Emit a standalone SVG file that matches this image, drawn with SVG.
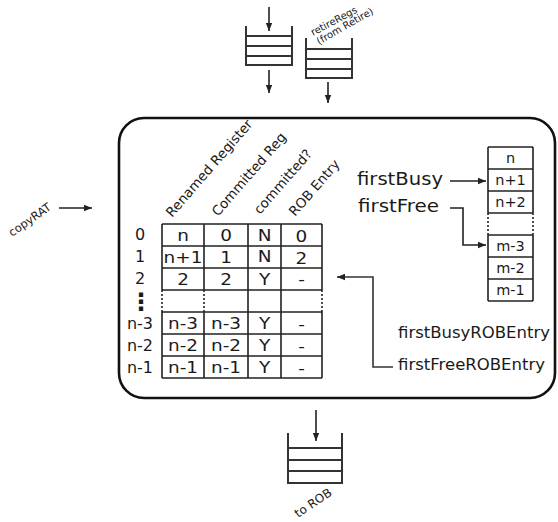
<svg xmlns="http://www.w3.org/2000/svg" width="558" height="522" viewBox="0 0 558 522">
  <style>
    text { font-family: "DejaVu Sans", "Liberation Sans", sans-serif; fill: #1a1a1a; }
    .cell { font-size: 16.5px; text-anchor: middle; }
    .rowlbl { font-size: 16px; text-anchor: middle; }
    .hdr { font-size: 13.5px; }
    .stk { font-size: 14.5px; text-anchor: middle; }
    .ptr { font-size: 17px; }
    .ptr2 { font-size: 15px; }
    .small { font-size: 10px; }
    .grid { fill: none; stroke: #222; stroke-width: 1.6; }
    .dot { fill: none; stroke: #222; stroke-width: 1.6; stroke-dasharray: 2 2; }
    .fifo { fill: none; stroke: #333; stroke-width: 2; }
    .wire { fill: none; stroke: #222; stroke-width: 1.6; }
    .wire2 { fill: none; stroke: #333; stroke-width: 1.6; }
  </style>
  <defs>
    <marker id="arr" viewBox="0 0 10 10" refX="10" refY="5" markerWidth="8" markerHeight="8" markerUnits="userSpaceOnUse" orient="auto">
      <path d="M0,1 L10,5 L0,9 z" fill="#222"/>
    </marker>
  </defs>

  <!-- rename unit outline -->
  <g id="rename-unit">
    <rect x="119" y="118" width="436" height="280" rx="25" ry="25" fill="none" stroke="#111" stroke-width="2.6"/>
  </g>

  <!-- input queue (top left) -->
  <g id="fifo-in">
    <path class="fifo" d="M246,26 V65 H292 V26"/>
    <path class="fifo" d="M246,36 H292 M246,46 H292 M246,56 H292"/>
  </g>

  <!-- retireRegs queue -->
  <g id="fifo-retire">
    <path class="fifo" d="M306,38 V78 H352 V38"/>
    <path class="fifo" d="M306,49 H352 M306,59 H352 M306,69 H352"/>
    <text class="small" transform="translate(313,36) rotate(-28)">retireRegs</text>
    <text class="small" transform="translate(319,45) rotate(-30)">(from Retire)</text>
  </g>

  <!-- output queue to ROB -->
  <g id="fifo-rob">
    <path class="fifo" d="M288,433 V483 H342 V433"/>
    <path class="fifo" d="M288,448 H342 M288,460 H342 M288,471 H342"/>
    <text transform="translate(298,518) rotate(-34)" style="font-size:12px">to ROB</text>
  </g>

  <!-- copyRAT input -->
  <g id="copyrat">
    <text transform="translate(12,237) rotate(-35)" style="font-size:11.5px">copyRAT</text>
  </g>

  <!-- register alias table -->
  <g id="rat-table">
    <text class="hdr" transform="translate(172,218) rotate(-49)">Renamed Register</text>
    <text class="hdr" transform="translate(218,217) rotate(-49)">Committed Reg</text>
    <text class="hdr" transform="translate(260,215) rotate(-49)">committed?</text>
    <text class="hdr" transform="translate(295,217) rotate(-49)">ROB Entry</text>

    <!-- solid grid -->
    <path class="grid" d="M162,224 H322 M162,246 H322 M162,268 H322 M162,290 H322 M162,312 H322 M162,334 H322 M162,356 H322 M162,378 H322"/>
    <path class="grid" d="M162,224 V290 M204,224 V290 M248,224 V290 M281,224 V290 M322,224 V290"/>
    <path class="grid" d="M162,312 V378 M204,312 V378 M248,312 V378 M281,312 V378 M322,312 V378"/>
    <path class="grid" d="M248,290 V312 M281,290 V312"/>
    <path class="dot" d="M162,290 V312 M204,290 V312 M322,290 V312"/>

    <!-- row indices -->
    <text class="rowlbl" x="140" y="240">0</text>
    <text class="rowlbl" x="140" y="262">1</text>
    <text class="rowlbl" x="140" y="284">2</text>
    <text class="rowlbl" x="141" y="310" style="font-size:24px;font-weight:bold">⋮</text>
    <text class="rowlbl" x="140" y="329">n-3</text>
    <text class="rowlbl" x="140" y="351">n-2</text>
    <text class="rowlbl" x="140" y="373">n-1</text>

    <!-- cell values -->
    <g transform="scale(1.12,1)">
      <text class="cell" x="163.4" y="241">n</text>
      <text class="cell" x="201.8" y="241">0</text>
      <text class="cell" x="236.2" y="241">N</text>
      <text class="cell" x="269.2" y="242">0</text>

      <text class="cell" x="163.4" y="263">n+1</text>
      <text class="cell" x="201.8" y="263">1</text>
      <text class="cell" x="236.2" y="262">N</text>
      <text class="cell" x="269.2" y="264">2</text>

      <text class="cell" x="163.4" y="285">2</text>
      <text class="cell" x="201.8" y="285">2</text>
      <text class="cell" x="236.2" y="285">Y</text>
      <text class="cell" x="269.2" y="285">-</text>

      <text class="cell" x="163.4" y="329">n-3</text>
      <text class="cell" x="201.8" y="329">n-3</text>
      <text class="cell" x="236.2" y="329">Y</text>
      <text class="cell" x="269.2" y="330">-</text>

      <text class="cell" x="163.4" y="351">n-2</text>
      <text class="cell" x="201.8" y="351">n-2</text>
      <text class="cell" x="236.2" y="351">Y</text>
      <text class="cell" x="269.2" y="352">-</text>

      <text class="cell" x="163.4" y="373">n-1</text>
      <text class="cell" x="201.8" y="373">n-1</text>
      <text class="cell" x="236.2" y="373">Y</text>
      <text class="cell" x="269.2" y="374">-</text>
    </g>
  </g>

  <!-- free list -->
  <g id="free-list">
    <path class="grid" d="M488,147 H533 M488,169 H533 M488,191 H533 M488,213 H533 M488,235 H533 M488,257 H533 M488,279 H533 M488,301 H533"/>
    <path class="grid" d="M488,147 V213 M533,147 V213 M488,235 V301 M533,235 V301"/>
    <path class="dot" d="M488,213 V235 M533,213 V235"/>
    <text class="stk" x="510.5" y="163">n</text>
    <text class="stk" x="510.5" y="185">n+1</text>
    <text class="stk" x="510.5" y="207">n+2</text>
    <text class="stk" x="510.5" y="251">m-3</text>
    <text class="stk" x="510.5" y="273">m-2</text>
    <text class="stk" x="510.5" y="295">m-1</text>
  </g>

  <!-- pointer labels -->
  <g id="first-busy">
    <text class="ptr" x="357" y="185" textLength="86" lengthAdjust="spacingAndGlyphs">firstBusy</text>
  </g>
  <g id="first-free">
    <text class="ptr" x="358" y="212" textLength="81" lengthAdjust="spacingAndGlyphs">firstFree</text>
  </g>
  <g id="first-busy-rob">
    <text class="ptr2" x="398" y="338" textLength="152" lengthAdjust="spacingAndGlyphs">firstBusyROBEntry</text>
  </g>
  <g id="first-free-rob">
    <text class="ptr2" x="398" y="370" textLength="147" lengthAdjust="spacingAndGlyphs">firstFreeROBEntry</text>
  </g>

  <!-- connectors -->
  <g id="connectors">
    <path class="wire" d="M269,7 V31" marker-end="url(#arr)"/>
    <path class="wire" d="M269,70 V93" marker-end="url(#arr)"/>
    <path class="wire" d="M328,82 V103" marker-end="url(#arr)"/>
    <path class="wire" d="M59,208 H92" marker-end="url(#arr)"/>
    <path class="wire" d="M316,410 V441" marker-end="url(#arr)"/>
    <path class="wire" d="M450,181 H486" marker-end="url(#arr)"/>
    <path class="wire" d="M450,208 H463 V245 H486" marker-end="url(#arr)"/>
    <path class="wire2" d="M393,367 H373 V277 H337" marker-end="url(#arr)"/>
  </g>
</svg>
